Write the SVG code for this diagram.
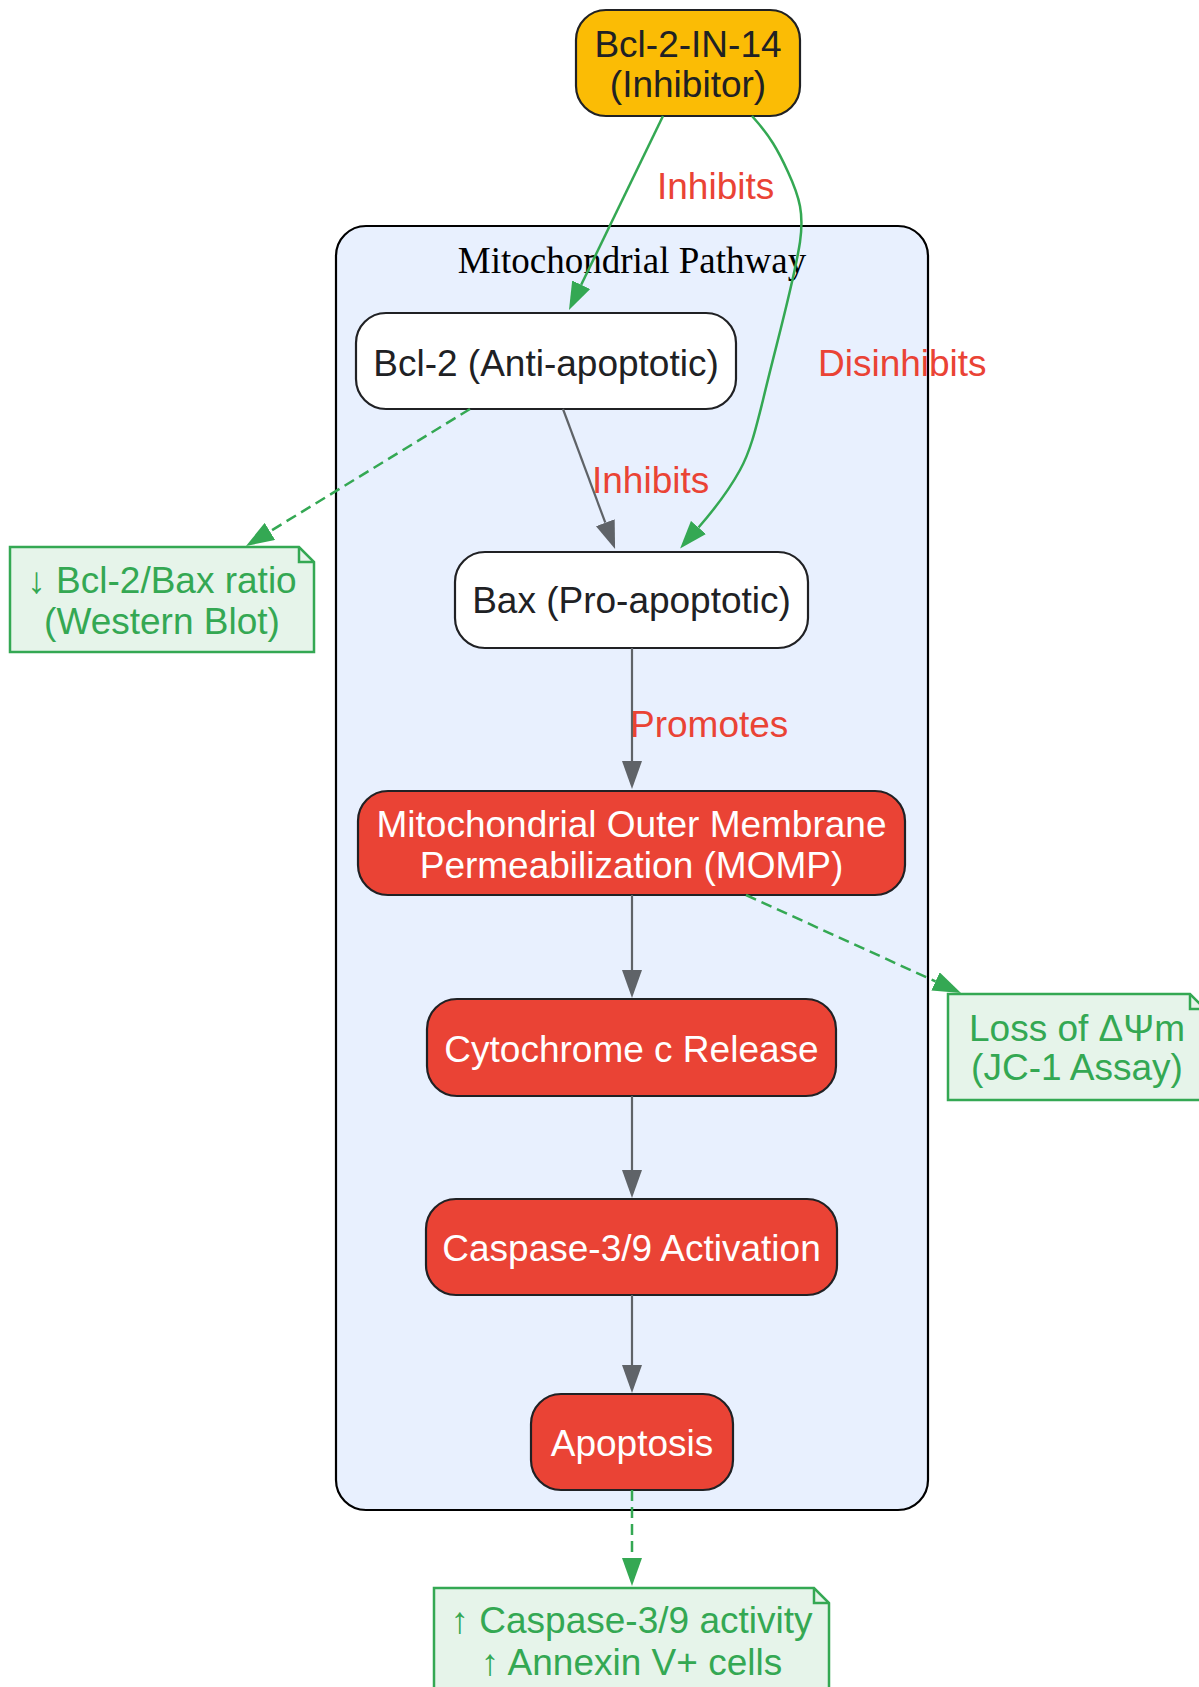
<svg xmlns="http://www.w3.org/2000/svg" width="1199" height="1687" viewBox="0 0 1199 1687">
<style>
.t{font-family:"Liberation Sans",Arial,sans-serif;font-size:37px;text-anchor:middle}
.dark{fill:#202124}
.white{fill:#ffffff}
.lbl{font-family:"Liberation Sans",Arial,sans-serif;font-size:37px;fill:#EA4335}
.note{fill:#E6F4EA;stroke:#34A853;stroke-width:2.5}
.fold{fill:none;stroke:#34A853;stroke-width:2.5}
.ntxt{fill:#34A853}
.node{stroke:#202124;stroke-width:2.2}
.g{fill:none;stroke:#5F6368;stroke-width:2.2}
.gr{fill:none;stroke:#34A853;stroke-width:2.5}
.dash{stroke-dasharray:11,6}
</style>
<defs>
<marker id="ag" viewBox="0 0 28 20" markerWidth="28" markerHeight="20" refX="0" refY="10" markerUnits="userSpaceOnUse" orient="auto"><path d="M0,0 L28,10 L0,20 Z" fill="#34A853"/></marker>
<marker id="ay" viewBox="0 0 28 20" markerWidth="28" markerHeight="20" refX="0" refY="10" markerUnits="userSpaceOnUse" orient="auto"><path d="M0,0 L28,10 L0,20 Z" fill="#5F6368"/></marker>
</defs>
<rect width="1199" height="1687" fill="#ffffff"/>
<g id="cluster">
<rect x="336" y="226" width="592" height="1284" rx="30" ry="30" fill="#E8F0FE" stroke="#000000" stroke-width="2.2"/>
<text x="632" y="273" font-family="'Liberation Serif','Times New Roman',serif" font-size="37" text-anchor="middle" fill="#000000">Mitochondrial Pathway</text>
</g>
<g id="inhibitor">
<rect x="576" y="10" width="224" height="106" rx="30" ry="30" fill="#FBBC05" class="node"/>
<text class="t dark" x="688" y="57">Bcl-2-IN-14</text>
<text class="t dark" x="688" y="97">(Inhibitor)</text>
</g>
<g id="bcl2">
<rect x="356" y="313" width="380" height="96" rx="30" ry="30" fill="#ffffff" class="node"/>
<text class="t dark" x="546" y="376">Bcl-2 (Anti-apoptotic)</text>
</g>
<g id="bax">
<rect x="455" y="552" width="353" height="96" rx="30" ry="30" fill="#ffffff" class="node"/>
<text class="t dark" x="631.5" y="613">Bax (Pro-apoptotic)</text>
</g>
<g id="momp">
<rect x="358" y="791" width="547" height="104" rx="30" ry="30" fill="#EA4335" class="node"/>
<text class="t white" x="631.5" y="837">Mitochondrial Outer Membrane</text>
<text class="t white" x="631.5" y="878">Permeabilization (MOMP)</text>
</g>
<g id="cytc">
<rect x="427" y="999" width="409" height="97" rx="30" ry="30" fill="#EA4335" class="node"/>
<text class="t white" x="631.5" y="1062">Cytochrome c Release</text>
</g>
<g id="casp">
<rect x="426" y="1199" width="411" height="96" rx="30" ry="30" fill="#EA4335" class="node"/>
<text class="t white" x="631.5" y="1261">Caspase-3/9 Activation</text>
</g>
<g id="apoptosis">
<rect x="531" y="1394" width="202" height="96" rx="30" ry="30" fill="#EA4335" class="node"/>
<text class="t white" x="632" y="1456">Apoptosis</text>
</g>
<g id="note_wb">
<path class="note" d="M10,547 H299 L314,562 V652 H10 Z"/>
<path class="fold" d="M299,547 V562 H314"/>
<text class="t ntxt" x="162" y="593">↓ Bcl-2/Bax ratio</text>
<text class="t ntxt" x="162" y="634">(Western Blot)</text>
</g>
<g id="note_jc1">
<path class="note" d="M948,994 H1190 L1205,1009 V1100 H948 Z"/>
<path class="fold" d="M1190,994 V1009 H1205"/>
<text class="t ntxt" x="1077" y="1041">Loss of ΔΨm</text>
<text class="t ntxt" x="1077" y="1080">(JC-1 Assay)</text>
</g>
<g id="note_casp">
<path class="note" d="M434,1588 H814 L829,1603 V1693 H434 Z"/>
<path class="fold" d="M814,1588 V1603 H829"/>
<text class="t ntxt" x="631.5" y="1633">↑ Caspase-3/9 activity</text>
<text class="t ntxt" x="631.5" y="1675">↑ Annexin V+ cells</text>
</g>
<g id="connectors">
<path class="gr" d="M663,116 L581.2,284.8" marker-end="url(#ag)"/>
<path class="gr" d="M752,116 C770,136 778,150 788,172 C800,198 804,214 800,242 C794,282 776,345 763,400 C755,432 750,452 740,470 C728,492 712,512 698.5,527.5" marker-end="url(#ag)"/>
<path class="g" d="M563,409 L605.3,522.7" marker-end="url(#ay)"/>
<path class="gr dash" d="M470,409 L269.9,531.4" marker-end="url(#ag)"/>
<path class="g" d="M632,648 V761" marker-end="url(#ay)"/>
<path class="g" d="M632,895 V970" marker-end="url(#ay)"/>
<path class="g" d="M632,1096 V1170" marker-end="url(#ay)"/>
<path class="g" d="M632,1295 V1365" marker-end="url(#ay)"/>
<path class="gr dash" d="M746,895 L935.5,981.4" marker-end="url(#ag)"/>
<path class="gr dash" d="M632,1490 V1558" marker-end="url(#ag)"/>
<text class="lbl" x="657" y="199">Inhibits</text>
<text class="lbl" x="818" y="376">Disinhibits</text>
<text class="lbl" x="592" y="493">Inhibits</text>
<text class="lbl" x="630" y="737">Promotes</text>
</g>
</svg>
